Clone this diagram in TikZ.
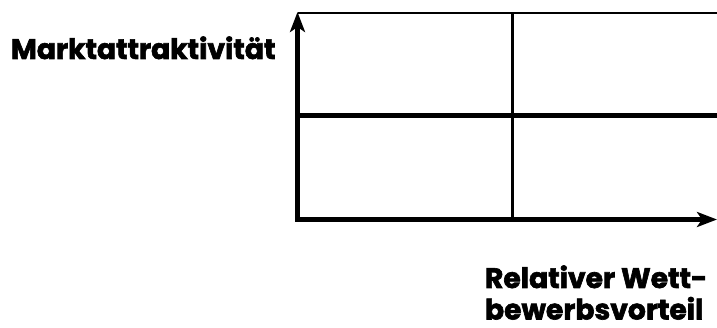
\documentclass[tikz,border=0pt]{standalone}
\usepackage{fontspec}
\setmainfont{Poppins}[BoldFont={* Bold},BoldFeatures={FakeBold=2.2}]
\usetikzlibrary{arrows.meta}
\begin{document}
\begin{tikzpicture}[x=1pt,y=-1pt,
  lbl/.style={inner sep=0pt,outer sep=0pt,anchor=base west,text depth=0pt,font=\fontsize{28.2}{32}\selectfont\bfseries},
  axis/.style={line width=4.5pt,-{Stealth[length=20pt,width=15pt,inset=5pt]}},
  thin/.style={line width=2.5pt},
  mid/.style={line width=5pt}]
\useasboundingbox (0,0) rectangle (717,328);
\coordinate (O) at (297.5,219.5);
\coordinate (Ytop) at (297.5,12);
\coordinate (Xend) at (717,219.5);
\coordinate (TL) at (297.5,13);
\coordinate (TR) at (717,13);
\coordinate (ML) at (297.5,115.5);
\coordinate (MR) at (717,115.5);
\coordinate (VT) at (512.5,13);
\coordinate (VB) at (512.5,219.5);
\draw[thin] (TL) -- (TR);
\draw[thin] (VT) -- (VB);
\draw[mid] (ML) -- (MR);
\draw[axis] (O) -- (Ytop);
\draw[axis] ([xshift=-2.25pt]O) -- (Xend);
\node[lbl] (ya) at (11,59) {Marktattraktivität};
\node[lbl] (xa1) at (485,288) {Relativer Wett-};
\node[lbl] (xa2) at (485,319.5) {bewerbsvorteil};
\end{tikzpicture}
\end{document}
